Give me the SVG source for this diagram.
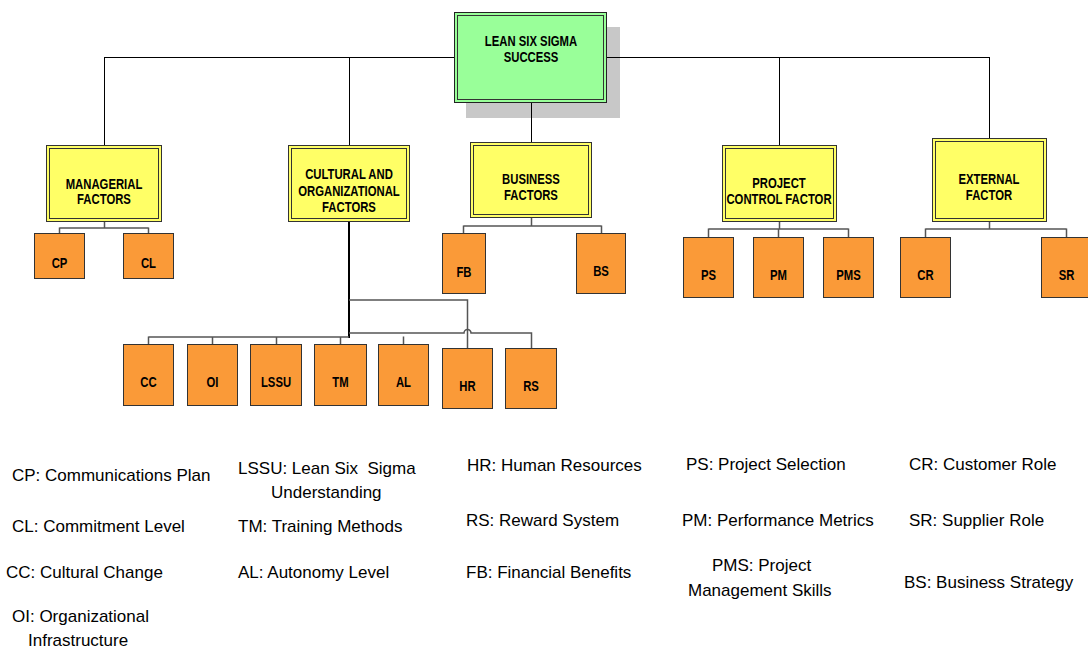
<svg xmlns="http://www.w3.org/2000/svg" width="1088" height="649" viewBox="0 0 1088 649">
<style>
.bg{fill:#ffffff}
.shadow{fill:#c8c8c8}
.root{fill:#99ff99;stroke:#222;stroke-width:1}
.cat{fill:#ffff66;stroke:#333;stroke-width:1}
.inner{fill:none;stroke:#333;stroke-width:1}
.leaf{fill:#fa9a38;stroke:#333;stroke-width:1}
.main{fill:none;stroke:#000;stroke-width:1}
.thick{fill:none;stroke:#000;stroke-width:2}
.sub{fill:none;stroke:#555;stroke-width:1.5}
.nl{font-family:"Liberation Sans",Arial,sans-serif;font-weight:bold;font-size:14.5px;fill:#000;text-anchor:middle}
.lg{font-family:"Liberation Sans",Arial,sans-serif;font-size:17px;fill:#000}
</style>
<rect class="bg" x="0" y="0" width="1088" height="649"/>

<g id="node-root">
  <rect class="shadow" x="466" y="27" width="154" height="91"/>
  <rect class="root" x="454.5" y="12.5" width="152" height="90"/>
  <rect class="inner" x="457.5" y="15.5" width="146" height="84"/>
  <text class="nl" transform="translate(531,0) scale(0.78,1)"><tspan x="0" y="46">LEAN SIX SIGMA</tspan><tspan x="0" y="62">SUCCESS</tspan></text>
</g>

<g id="connectors">
  <path class="main" d="M104,57.5 H454 M607,57.5 H990"/>
  <path class="main" d="M104.5,57 V145 M349.5,57 V145 M531.5,103 V142 M779.5,57 V145 M989.5,57 V138"/>
  <path class="sub" d="M104.5,222 V228 M59.5,228 H148.5 M59.5,227.5 V233 M148.5,227.5 V233"/>
  <path class="sub" d="M531.5,218 V226 M463.5,226 H601.5 M463.5,225.5 V233 M601.5,225.5 V233"/>
  <path class="sub" d="M779.5,222 V229 M708.5,229 H848.5 M708.5,228.5 V237 M778.5,228.5 V237 M848.5,228.5 V237"/>
  <path class="sub" d="M989.5,222 V229 M925.5,229 H1066.5 M925.5,228.5 V237 M1066.5,228.5 V237"/>
  <path class="thick" d="M349,222 V338"/>
  <path class="sub" d="M148.5,337 H349 M148.5,336.5 V344 M212.5,336.5 V344 M276.5,336.5 V344 M340.5,336.5 V344 M403.5,336.5 V344"/>
  <path class="sub" d="M349,300 H467.5 V348"/>
  <path class="sub" d="M349,333 H464 A3.5,3.5 0 0 1 471,333 H531.5 V348"/>
</g>

<g id="node-managerial">
  <rect class="cat" x="46.5" y="145.5" width="115" height="76"/>
  <rect class="inner" x="49.5" y="148.5" width="109" height="70"/>
  <text class="nl" transform="translate(104,0) scale(0.78,1)"><tspan x="0" y="189">MANAGERIAL</tspan><tspan x="0" y="204">FACTORS</tspan></text>
</g>
<g id="node-cultural">
  <rect class="cat" x="288.5" y="145.5" width="121" height="76"/>
  <rect class="inner" x="291.5" y="148.5" width="115" height="70"/>
  <text class="nl" transform="translate(349,0) scale(0.78,1)"><tspan x="0" y="179">CULTURAL AND</tspan><tspan x="0" y="196">ORGANIZATIONAL</tspan><tspan x="0" y="212">FACTORS</tspan></text>
</g>
<g id="node-business">
  <rect class="cat" x="470.5" y="142.5" width="121" height="75"/>
  <rect class="inner" x="473.5" y="145.5" width="115" height="69"/>
  <text class="nl" transform="translate(531,0) scale(0.78,1)"><tspan x="0" y="184">BUSINESS</tspan><tspan x="0" y="200">FACTORS</tspan></text>
</g>
<g id="node-project">
  <rect class="cat" x="722.5" y="145.5" width="114" height="76"/>
  <rect class="inner" x="725.5" y="148.5" width="108" height="70"/>
  <text class="nl" transform="translate(779,0) scale(0.78,1)"><tspan x="0" y="188">PROJECT</tspan><tspan x="0" y="204">CONTROL FACTOR</tspan></text>
</g>
<g id="node-external">
  <rect class="cat" x="932.5" y="138.5" width="114" height="83"/>
  <rect class="inner" x="935.5" y="141.5" width="108" height="77"/>
  <text class="nl" transform="translate(989,0) scale(0.78,1)"><tspan x="0" y="184">EXTERNAL</tspan><tspan x="0" y="200">FACTOR</tspan></text>
</g>

<g id="node-cp"><rect class="leaf" x="34.5" y="233.5" width="50" height="45"/><text class="nl" transform="translate(59.5,268) scale(0.78,1)">CP</text></g>
<g id="node-cl"><rect class="leaf" x="123.5" y="233.5" width="50" height="45"/><text class="nl" transform="translate(148.5,268) scale(0.78,1)">CL</text></g>
<g id="node-fb"><rect class="leaf" x="442.5" y="233.5" width="43" height="60"/><text class="nl" transform="translate(464,277) scale(0.78,1)">FB</text></g>
<g id="node-bs"><rect class="leaf" x="576.5" y="233.5" width="49" height="60"/><text class="nl" transform="translate(601,276) scale(0.78,1)">BS</text></g>
<g id="node-ps"><rect class="leaf" x="683.5" y="237.5" width="50" height="60"/><text class="nl" transform="translate(708.5,280) scale(0.78,1)">PS</text></g>
<g id="node-pm"><rect class="leaf" x="753.5" y="237.5" width="50" height="60"/><text class="nl" transform="translate(778.5,280) scale(0.78,1)">PM</text></g>
<g id="node-pms"><rect class="leaf" x="823.5" y="237.5" width="50" height="60"/><text class="nl" transform="translate(848.5,280) scale(0.78,1)">PMS</text></g>
<g id="node-cr"><rect class="leaf" x="900.5" y="237.5" width="50" height="60"/><text class="nl" transform="translate(925.5,280) scale(0.78,1)">CR</text></g>
<g id="node-sr"><rect class="leaf" x="1041.5" y="237.5" width="51" height="60"/><text class="nl" transform="translate(1066.5,280) scale(0.78,1)">SR</text></g>
<g id="node-cc"><rect class="leaf" x="123.5" y="344.5" width="50" height="61"/><text class="nl" transform="translate(148.5,387) scale(0.78,1)">CC</text></g>
<g id="node-oi"><rect class="leaf" x="187.5" y="344.5" width="50" height="61"/><text class="nl" transform="translate(212.5,387) scale(0.78,1)">OI</text></g>
<g id="node-lssu"><rect class="leaf" x="250.5" y="344.5" width="51" height="61"/><text class="nl" transform="translate(276,387) scale(0.78,1)">LSSU</text></g>
<g id="node-tm"><rect class="leaf" x="314.5" y="344.5" width="52" height="61"/><text class="nl" transform="translate(340.5,387) scale(0.78,1)">TM</text></g>
<g id="node-al"><rect class="leaf" x="378.5" y="344.5" width="50" height="61"/><text class="nl" transform="translate(403.5,387) scale(0.78,1)">AL</text></g>
<g id="node-hr"><rect class="leaf" x="442.5" y="348.5" width="50" height="60"/><text class="nl" transform="translate(467.5,391) scale(0.78,1)">HR</text></g>
<g id="node-rs"><rect class="leaf" x="505.5" y="348.5" width="51" height="60"/><text class="nl" transform="translate(531,391) scale(0.78,1)">RS</text></g>

<g id="legend">
  <text class="lg" x="12" y="481">CP: Communications Plan</text>
  <text class="lg" x="12" y="532">CL: Commitment Level</text>
  <text class="lg" x="6" y="578">CC: Cultural Change</text>
  <text class="lg" x="12" y="622">OI: Organizational</text>
  <text class="lg" x="28" y="646">Infrastructure</text>
  <text class="lg" x="238" y="474" xml:space="preserve">LSSU: Lean Six  Sigma</text>
  <text class="lg" x="271" y="498">Understanding</text>
  <text class="lg" x="238" y="532">TM: Training Methods</text>
  <text class="lg" x="238" y="578">AL: Autonomy Level</text>
  <text class="lg" x="467" y="471">HR: Human Resources</text>
  <text class="lg" x="466" y="526">RS: Reward System</text>
  <text class="lg" x="466" y="578">FB: Financial Benefits</text>
  <text class="lg" x="686" y="470">PS: Project Selection</text>
  <text class="lg" x="682" y="526">PM: Performance Metrics</text>
  <text class="lg" x="712" y="571">PMS: Project</text>
  <text class="lg" x="688" y="596">Management Skills</text>
  <text class="lg" x="909" y="470">CR: Customer Role</text>
  <text class="lg" x="909" y="526">SR: Supplier Role</text>
  <text class="lg" x="904" y="588">BS: Business Strategy</text>
</g>
</svg>
